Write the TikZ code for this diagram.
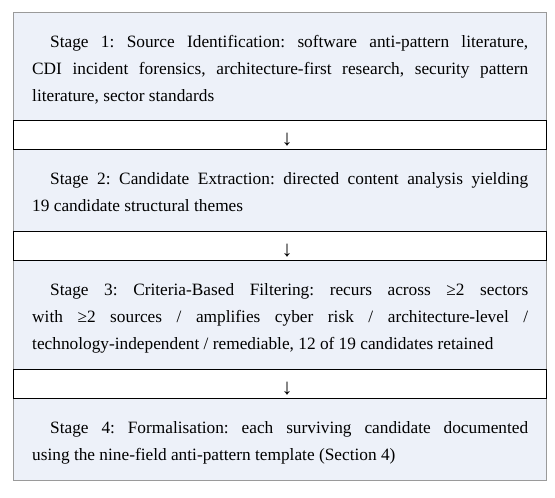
\documentclass[tikz,border=0pt]{standalone}
\usepackage{fontspec}
\setmainfont{Liberation Serif}
\definecolor{stagefill}{HTML}{EDF1F9}
\definecolor{stageline}{HTML}{9A9A9A}
\newcommand{\stagestart}{\leavevmode\vrule width 0pt height 15pt depth 0pt\relax\hspace*{18pt}}
\begin{document}
\begin{tikzpicture}[x=1pt,y=-1pt,
  stagebox/.style={draw=stageline, line width=1pt, fill=stagefill, rectangle, inner sep=0pt, minimum width=533pt, anchor=north west},
  arrowrow/.style={draw=black, line width=1.2pt, fill=white, rectangle, inner sep=0pt, minimum width=533pt, minimum height=29pt, anchor=north west},
  stagetext/.style={anchor=north west, inner sep=0pt, text width=496pt, align=justify,
    font=\fontsize{17.3pt}{27pt}\selectfont},
  arrowglyph/.style={anchor=base, inner sep=0pt, font=\fontsize{22pt}{24pt}\selectfont, text=black}
]
\useasboundingbox (0,0) rectangle (555,498);
% stage boxes
\node[stagebox, minimum height=108.5pt] (s1) at (12.5,11.5) {};
\node[stagebox, minimum height=82pt] (s2) at (12.5,149) {};
\node[stagebox, minimum height=109pt] (s3) at (12.5,260) {};
\node[stagebox, minimum height=82pt] (s4) at (12.5,398) {};
% arrow rows
\node[arrowrow] (r1) at (12.5,120) {};
\node[arrowrow] (r2) at (12.5,231) {};
\node[arrowrow] (r3) at (12.5,369) {};
\node[arrowglyph] (a1) at (287,145) {↓};
\node[arrowglyph] (a2) at (287,256) {↓};
\node[arrowglyph] (a3) at (287,394) {↓};
% texts
\node[stagetext] (t1) at (32,32) {\frenchspacing\tolerance=10000 \stagestart Stage 1: Source Identification: software anti-pattern literature,\linebreak CDI incident forensics, architecture-first research, security pattern\linebreak literature, sector standards};
\node[stagetext] (t2) at (32,169.5) {\frenchspacing\tolerance=10000 \stagestart Stage 2: Candidate Extraction: directed content analysis yielding\linebreak 19 candidate structural themes};
\node[stagetext] (t3) at (32,280.5) {\frenchspacing\tolerance=10000 \stagestart Stage 3: Criteria-Based Filtering: recurs across ≥2 sectors\linebreak with ≥2 sources / amplifies cyber risk / architecture-level /\linebreak technology-independent / remediable, 12 of 19 candidates retained};
\node[stagetext] (t4) at (32,418.5) {\frenchspacing\tolerance=10000 \stagestart Stage 4: Formalisation: each surviving candidate documented\linebreak using the nine-field anti-pattern template (Section 4)};
\end{tikzpicture}
\end{document}
